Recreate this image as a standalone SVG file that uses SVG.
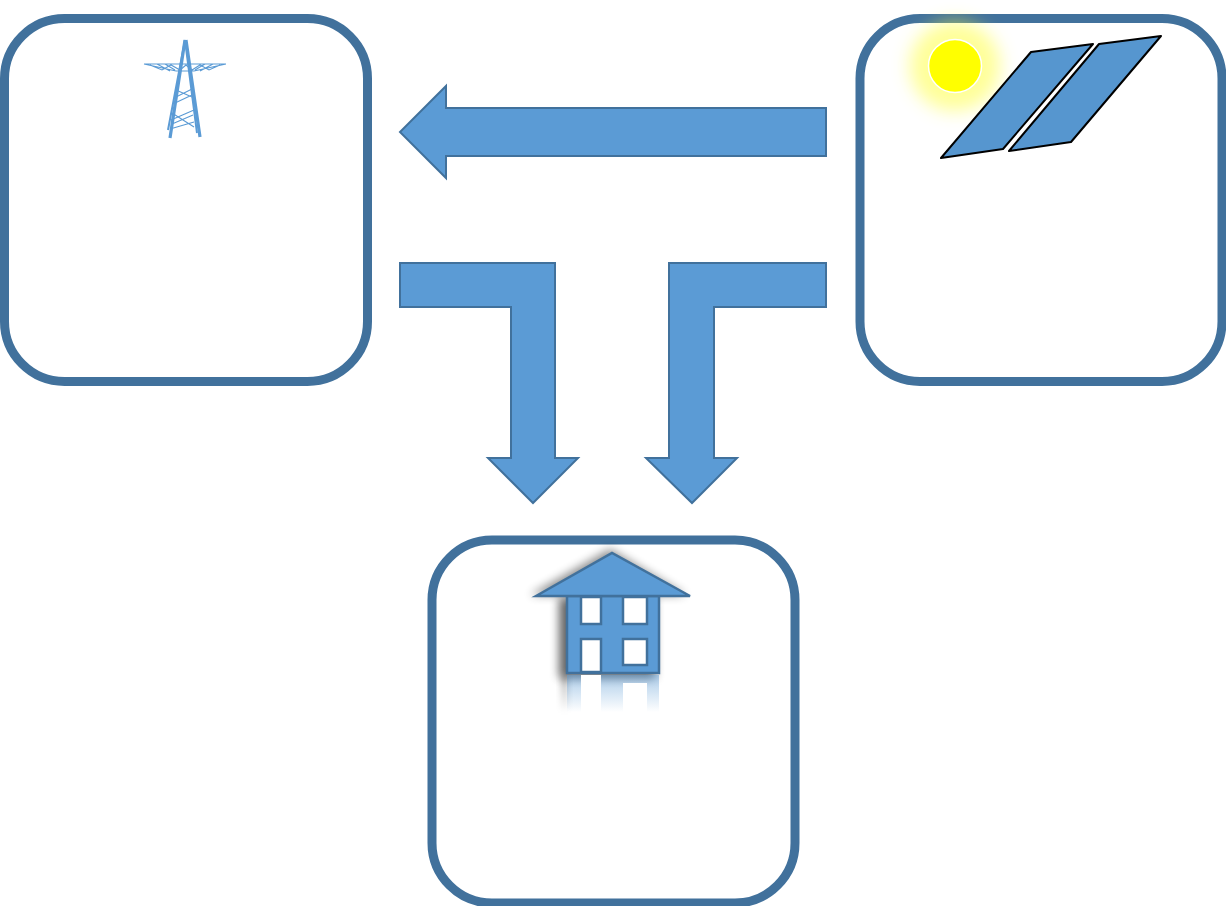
<svg xmlns="http://www.w3.org/2000/svg" width="1226" height="906" viewBox="0 0 1226 906">
<style>
.box{fill:#fff;stroke:#41719c;stroke-width:9}
.arrow{fill:#5b9bd5;stroke:#41719c;stroke-width:2}
.panel{fill:#5696cf;stroke:#000;stroke-width:2;stroke-linejoin:round}
.house{fill:#5b9bd5;stroke:#41719c;stroke-width:2.500}
.win{fill:#fff;stroke:#41719c;stroke-width:2.500}
.leg{fill:none;stroke:#5b9bd5;stroke-width:3.200}
.lat{fill:none;stroke:#5b9bd5;stroke-width:1.100}
</style>
<defs>
<filter id="sh" x="-30%" y="-30%" width="160%" height="160%"><feGaussianBlur stdDeviation="5"/></filter>
<filter id="sh2" x="-60%" y="-20%" width="220%" height="140%"><feGaussianBlur stdDeviation="3"/></filter>
<filter id="gl" x="-50%" y="-50%" width="200%" height="200%"><feGaussianBlur stdDeviation="9"/></filter>
<linearGradient id="fade" x1="0" y1="0" x2="0" y2="1"><stop offset="0" stop-color="#5b9bd5" stop-opacity="0.5"/><stop offset="1" stop-color="#5b9bd5" stop-opacity="0"/></linearGradient>
<linearGradient id="fadeS" x1="0" y1="0" x2="0" y2="1"><stop offset="0" stop-color="#000" stop-opacity="0.3"/><stop offset="1" stop-color="#000" stop-opacity="0"/></linearGradient>
</defs>
<g id="grid-node">
<rect class="box" x="4.500" y="18.500" width="363" height="363" rx="60"/>
<g id="tower">
<path class="leg" d="M185 40L170 138M186 40L200 137"/>
<path class="leg" style="stroke-width:2" d="M185 40L168 130M185 40L197 133"/>
<path class="lat" d="M144 64L226 64M144 64L176 71M226 64L194 71M176 71L195 71M150 65L162 70L171 65L180 70L186 65L192 70L200 65L209 70L220 65M157 64L170 71M213 64L200 71M165 64L175 70M205 64L195 70M176 97L192 89M176 90L192 97M175 103L192 95M171 120L194 110M170 129L194 122M172 113L194 127M172 124L193 115"/>
</g>
</g>
<g id="solar-node">
<rect class="box" x="860" y="18.500" width="362" height="363" rx="60"/>
<g id="sun">
<circle cx="955" cy="66" r="45" fill="#ffff44" opacity="0.55" filter="url(#gl)"/>
<circle cx="955" cy="66" r="26.500" fill="#ff0" stroke="#fff" stroke-width="1.500"/>
</g>
<g id="panels">
<path class="panel" d="M941 158L1031 52L1093 44L1003 149Z"/>
<path class="panel" d="M1009 151L1099 44L1161 36L1071 142Z"/>
</g>
</g>
<g id="home-node">
<rect class="box" x="432" y="540" width="363" height="363" rx="60"/>
<g id="house">
<rect x="559" y="598" width="96" height="80" fill="#000" opacity="0.6" filter="url(#sh)"/>
<path d="M530 595L610 549L686 595Z" fill="#000" opacity="0.45" filter="url(#sh)"/>
<rect x="561" y="676" width="7" height="36" fill="url(#fadeS)" filter="url(#sh2)"/>
<rect x="567" y="596" width="92" height="77" class="house"/>
<path class="house" d="M536 596L612 553L690 596Z"/>
<rect class="win" x="581" y="597" width="20" height="27"/>
<rect class="win" x="623" y="597" width="24" height="27"/>
<rect class="win" x="581" y="639" width="20" height="33"/>
<rect class="win" x="623" y="639" width="24" height="26"/>
<path d="M567 675H659V712H567Z" fill="url(#fade)"/>
<rect x="581" y="675" width="20" height="37" fill="#fff"/>
<rect x="623" y="683" width="24" height="29" fill="#fff"/>
</g>
</g>
<g id="connectors">
<path class="arrow" d="M826 108V156H446V178L400 132L446 86V108Z"/>
<path class="arrow" d="M400 263H555V458H578L533 503L488 458H511V307H400Z"/>
<path class="arrow" d="M826 263H669V458H646L692 503L737 458H714V307H826Z"/>
</g>
</svg>
